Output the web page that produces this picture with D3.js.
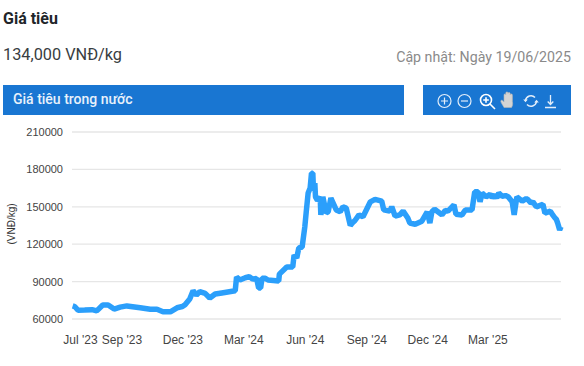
<!DOCTYPE html>
<html>
<head>
<meta charset="utf-8">
<script src="https://cdn.jsdelivr.net/npm/d3@7"></script>
<style>
  html, body { margin: 0; padding: 0; background: #fff; overflow: hidden; }
  svg { display: block; font-family: Roboto, sans-serif; }
</style>
</head>
<body>
<script>
const dates = ["2023-06-20","2023-06-23","2023-06-28","2023-07-08","2023-07-19","2023-07-26","2023-08-04","2023-08-12","2023-08-21","2023-08-30",
  "2023-09-09","2023-09-29","2023-10-14","2023-10-24","2023-11-02","2023-11-13","2023-11-23","2023-12-01","2023-12-05","2023-12-12",
  "2023-12-17","2023-12-22","2023-12-27","2024-01-04","2024-01-11","2024-01-19","2024-01-29","2024-02-18","2024-02-20","2024-02-25",
  "2024-03-04","2024-03-10","2024-03-15","2024-03-21","2024-03-24","2024-03-27","2024-03-29","2024-04-03","2024-04-07","2024-04-23","2024-04-24","2024-05-05",
  "2024-05-14","2024-05-16","2024-05-20","2024-05-23","2024-05-28","2024-06-01","2024-06-03","2024-06-06","2024-06-09","2024-06-11","2024-06-13",
  "2024-06-14","2024-06-16","2024-06-17","2024-06-20","2024-06-24","2024-06-25","2024-06-28","2024-07-03","2024-07-06","2024-07-10","2024-07-18",
  "2024-07-24","2024-07-28","2024-08-02","2024-08-08","2024-08-11","2024-08-15","2024-08-21","2024-08-27","2024-09-07","2024-09-14","2024-09-24",
  "2024-09-27","2024-10-06","2024-10-09","2024-10-14","2024-10-21","2024-10-26","2024-11-02","2024-11-05","2024-11-13","2024-11-23",
  "2024-12-01","2024-12-05","2024-12-08","2024-12-12","2024-12-17","2024-12-23","2024-12-28","2025-01-01","2025-01-10","2025-01-13","2025-01-22","2025-01-27",
  "2025-02-06","2025-02-10","2025-02-15","2025-02-18","2025-02-21","2025-02-27","2025-03-05","2025-03-08","2025-03-12","2025-03-15","2025-03-18","2025-03-23",
  "2025-03-28","2025-04-01","2025-04-07","2025-04-10","2025-04-14","2025-04-22","2025-04-28","2025-05-01","2025-05-05","2025-05-08","2025-05-13","2025-05-23","2025-05-26",
  "2025-06-03","2025-06-06","2025-06-10","2025-06-12","2025-06-14","2025-06-17","2025-06-19"];
const prices = [70500,70000,67000,67200,67500,66500,71200,71200,68000,69500,
  70500,69000,67800,67800,65800,65800,69000,70000,71500,76000,
  82700,79200,82000,80600,76800,80000,80900,82700,93700,91300,
  93100,94000,92000,92600,84900,84900,92600,92600,91300,90500,96000,101700,
  101700,111300,109000,117000,117700,133800,145000,161000,165000,177000,177000,
  163000,169000,158000,155000,158000,143500,158000,145000,146000,157000,147500,
  146000,150000,149000,135000,137000,139000,143500,142000,154000,156000,154500,
  147500,146500,150000,142500,143500,146500,141000,137000,136000,138500,
  146000,137000,146000,148000,146000,143500,147000,146500,151500,144000,143500,147500,
  147500,162000,162000,154000,161000,158000,160000,157500,159500,157000,161000,158500,
  159000,158000,154000,143500,158000,154500,156500,155500,153000,154000,150000,152000,145000,
  146500,144000,141000,140000,137000,131500,134000];
const yTicks = [60000,90000,120000,150000,180000,210000];
const xTicks = ["2023-07-01","2023-09-01","2023-12-01","2024-03-01","2024-06-01","2024-09-01","2024-12-01","2025-03-01"];

const width = 584, height = 366;
const parseDate = d3.utcParse("%Y-%m-%d");
const formatTick = d3.utcFormat("%b '%y");

const svg = d3.select("body").append("svg")
    .attr("width", width)
    .attr("height", height);

// header
svg.append("text").attr("x", 3).attr("y", 24)
    .attr("font-size", 16).attr("font-weight", 700).attr("fill", "#212529")
    .text("Giá tiêu");
svg.append("text").attr("x", 3).attr("y", 60)
    .attr("font-size", 16.3).attr("fill", "#383d41")
    .text("134,000 VNĐ/kg");
svg.append("text").attr("x", 571).attr("y", 62)
    .attr("text-anchor", "end").attr("font-size", 14.2).attr("fill", "#8a8a8a")
    .text("Cập nhật: Ngày 19/06/2025");

// blue bars
svg.append("rect").attr("x", 3).attr("y", 85).attr("width", 401).attr("height", 30).attr("fill", "#1976d2");
svg.append("rect").attr("x", 423).attr("y", 85).attr("width", 148).attr("height", 30).attr("fill", "#1976d2");
svg.append("text").attr("x", 13).attr("y", 104)
    .attr("font-size", 14).attr("font-weight", 500).attr("fill", "#e8f1fb")
    .text("Giá tiêu trong nước");

// toolbar icons
const icons = svg.append("g")
    .attr("fill", "none").attr("stroke", "#e3eefa").attr("stroke-width", 1.2);
const plus = icons.append("g").attr("transform", "translate(444.5,101)");
plus.append("circle").attr("r", 6.5);
plus.append("path").attr("d", "M-3.5,0H3.5M0,-3.5V3.5");
const minus = icons.append("g").attr("transform", "translate(464.5,101)");
minus.append("circle").attr("r", 6.5);
minus.append("path").attr("d", "M-3.5,0H3.5");
const zoomIcon = icons.append("g").attr("transform", "translate(486,100)").attr("stroke", "#fff").attr("stroke-width", 1.6);
zoomIcon.append("circle").attr("r", 5.5);
zoomIcon.append("path").attr("d", "M-2.8,0H2.8M0,-2.8V2.8M4,4L9,9");
icons.append("path")
    .attr("transform", "translate(508,100)")
    .attr("fill", "#d4d4d4").attr("stroke", "#b5b5b5").attr("stroke-width", 0.6)
    .attr("d", "M-4,7.5C-5,5 -8,2 -7,0.5C-6,-0.5 -4.5,1 -4,2V-5C-4,-6.5 -2.2,-6.5 -2.2,-5V-7C-2.2,-8.5 0,-8.5 0,-7V-6.5C0,-8 2.2,-8 2.2,-6.3V-5C2.2,-6.5 4.4,-6.5 4.4,-4.8V1.5C5,4 4.5,6 3.5,7.5Z");
const reset = icons.append("g").attr("transform", "translate(531,101)").attr("stroke-width", 1.5);
reset.append("path").attr("d", "M-5.5,-0.5A5.5,5.5 0 0 1 4,-3.5M5.5,0.5A5.5,5.5 0 0 1 -4,3.5");
reset.append("path").attr("d", "M-7.8,-1.5L-5.5,1.2L-3.2,-1.5Z M7.8,1.5L5.5,-1.2L3.2,1.5Z").attr("fill", "#e3eefa").attr("stroke", "none");
icons.append("path")
    .attr("transform", "translate(550.5,101)")
    .attr("stroke-width", 1.3)
    .attr("d", "M0,-6V3M-2.8,0.5L0,3.5L2.8,0.5M-5.5,6.5H5.5");

// chart
const x = d3.scaleUtc()
    .domain([parseDate("2023-06-19"), parseDate("2025-06-19")])
    .range([72, 561]);
const y = d3.scaleLinear()
    .domain([60000, 210000])
    .range([319, 132]);

svg.append("g").selectAll("line")
    .data(yTicks)
    .join("line")
    .attr("x1", 72).attr("x2", 561)
    .attr("y1", d => y(d)).attr("y2", d => y(d))
    .attr("stroke", "#e6e6e6")
    .attr("stroke-width", 1.3);

const yAxis = d3.axisLeft(y).tickValues(yTicks).tickSize(0).tickPadding(9).tickFormat(d3.format("d"));
const yG = svg.append("g").attr("transform", "translate(72,0)").call(yAxis);
yG.select(".domain").remove();
yG.selectAll("text").attr("font-size", 11).attr("font-family", "'Liberation Sans', sans-serif").attr("fill", "#444");

const xAxis = d3.axisBottom(x).tickValues(xTicks.map(parseDate)).tickSize(0).tickPadding(16).tickFormat(formatTick);
const xG = svg.append("g").attr("transform", "translate(0,319)").call(xAxis);
xG.select(".domain").remove();
xG.selectAll("text").attr("font-size", 12).attr("font-family", "'Liberation Sans', sans-serif").attr("fill", "#444");

svg.append("text")
    .attr("transform", "translate(15,224) rotate(-90)")
    .attr("text-anchor", "middle").attr("font-size", 10)
    .attr("font-family", "'Liberation Sans', sans-serif").attr("fill", "#333")
    .text("(VNĐ/kg)");

const line = d3.line()
    .x((d, i) => x(parseDate(dates[i])))
    .y(d => y(d));

svg.append("path")
    .datum(prices)
    .attr("fill", "none")
    .attr("stroke", "#2b9ffb")
    .attr("stroke-width", 5.5)
    .attr("stroke-linejoin", "bevel")
    .attr("d", line);
</script>
</body>
</html>
